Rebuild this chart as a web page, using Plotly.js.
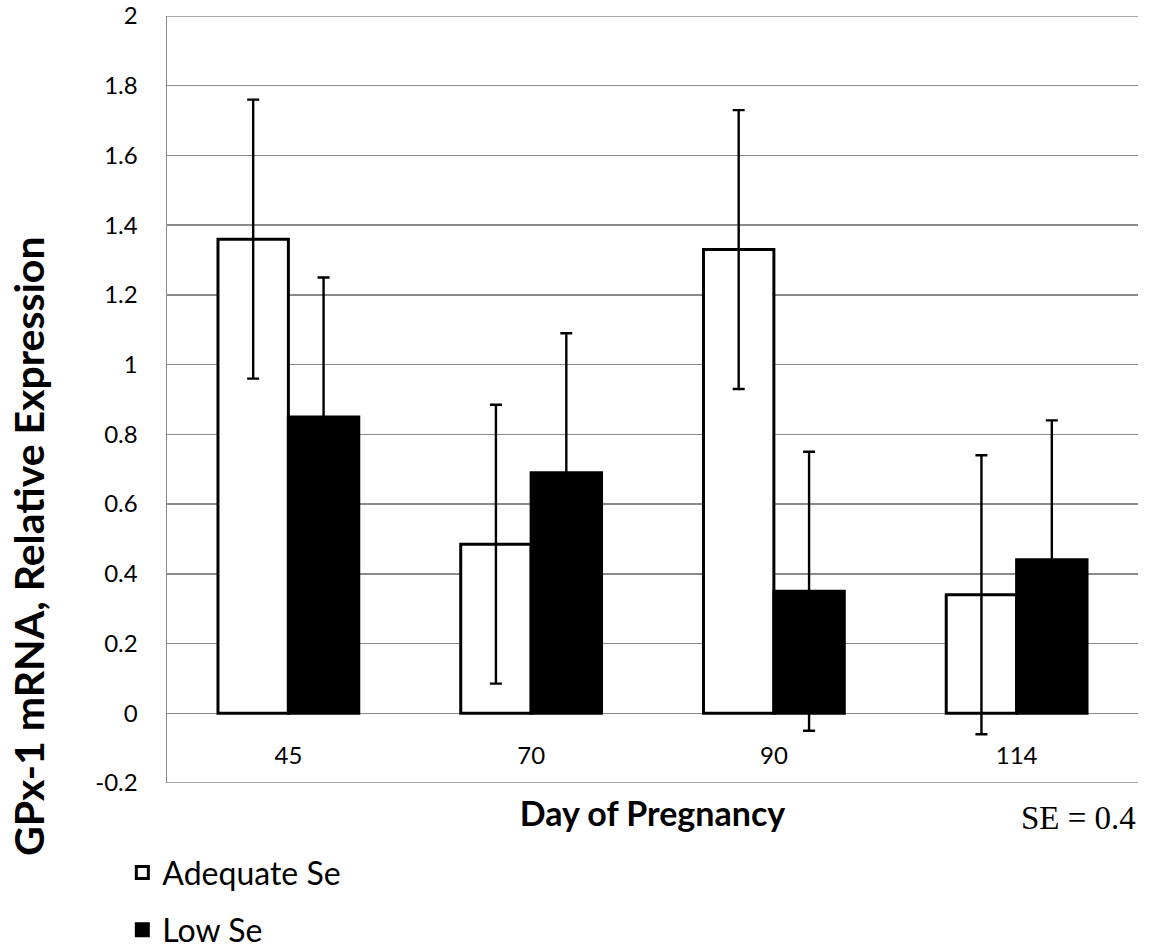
<!DOCTYPE html>
<html>
<head>
<meta charset="utf-8">
<script src="https://cdn.plot.ly/plotly-3.0.1.min.js"></script>
<style>html,body{margin:0;padding:0;background:#fff;}#chart{width:1160px;height:952px;}</style>
</head>
<body>
<div id="chart"></div>
<script>
const days = ["45", "70", "90", "114"];
const adequateSe = [1.36, 0.485, 1.33, 0.34];
const lowSe = [0.85, 0.69, 0.35, 0.44];
const seAdequate = [0.4, 0.4, 0.4, 0.4];
const seLow = [0.4, 0.4, 0.4, 0.4];
const yTicks = [-0.2, 0, 0.2, 0.4, 0.6, 0.8, 1, 1.2, 1.4, 1.6, 1.8, 2];
const yTickText = ["-0.2", "0", "0.2", "0.4", "0.6", "0.8", "1", "1.2", "1.4", "1.6", "1.8", "2"];
const yMin = -0.2, yMax = 2;

const font = "Lato, 'Open Sans', sans-serif";
const gridColor = "#8a8a8a";

const traces = [
  {
    type: "bar", name: "Adequate Se", x: days, y: adequateSe,
    marker: {color: "#ffffff", line: {color: "#000000", width: 3}},
    error_y: {type: "data", array: seAdequate, visible: true, color: "#000000", thickness: 2.4, width: 6},
    legend: "legend"
  },
  {
    type: "bar", name: "Low Se", x: days, y: lowSe,
    marker: {color: "#000000", line: {color: "#000000", width: 3}},
    error_y: {type: "data", array: seLow, visible: true, color: "#000000", thickness: 2.4, width: 6},
    legend: "legend2"
  }
];

const layout = {
  width: 1160, height: 952,
  margin: {l: 167, r: 22, t: 16, b: 169, autoexpand: false},
  paper_bgcolor: "#ffffff", plot_bgcolor: "#ffffff",
  barmode: "group", bargap: 0.42, bargroupgap: 0,
  font: {family: font, color: "#000000"},
  xaxis: {
    type: "category",
    anchor: "free", position: 0.0574,
    showgrid: false,
    showline: false,
    ticks: "",
    tickfont: {family: font, size: 24, color: "#000000"},
    title: {text: "<b>Day of Pregnancy</b>", font: {family: font, size: 34, color: "#000000"}, standoff: 34},
    automargin: false, fixedrange: true
  },
  yaxis: {
    range: [yMin, yMax],
    tickvals: yTicks, ticktext: yTickText,
    showgrid: true, gridcolor: gridColor, gridwidth: 1.4,
    zeroline: true, zerolinecolor: gridColor, zerolinewidth: 1.4,
    showline: true, linecolor: gridColor, linewidth: 1.5,
    ticks: "",
    ticklabelstandoff: 23,
    tickfont: {family: font, size: 24, color: "#000000"},
    automargin: false, fixedrange: true
  },
  shapes: [
    {type: "line", xref: "paper", yref: "y", x0: 0, x1: 1, y0: yMin, y1: yMin, line: {color: gridColor, width: 1.5}},
    {type: "line", xref: "paper", yref: "y", x0: 0, x1: 1, y0: yMax, y1: yMax, line: {color: gridColor, width: 1.4}}
  ],
  showlegend: true,
  legend: {
    x: -0.046, xanchor: "left", y: -0.117, yanchor: "middle",
    font: {family: font, size: 32, color: "#000000"},
    bgcolor: "rgba(0,0,0,0)"
  },
  legend2: {
    x: -0.046, xanchor: "left", y: -0.1917, yanchor: "middle",
    font: {family: font, size: 32, color: "#000000"},
    bgcolor: "rgba(0,0,0,0)"
  },
  annotations: [
    {
      xref: "paper", yref: "paper", x: -0.142, y: 0.309,
      xanchor: "center", yanchor: "middle", textangle: -90, showarrow: false,
      text: "<b>GPx-1 mRNA, Relative Expression</b>",
      font: {family: font, size: 41, color: "#000000"}
    },
    {
      xref: "paper", yref: "paper", x: 1, y: -0.0456,
      xanchor: "right", yanchor: "middle", showarrow: false,
      text: "SE = 0.4",
      font: {family: "'Liberation Serif', 'Times New Roman', serif", size: 33, color: "#000000"}
    }
  ]
};

Plotly.newPlot("chart", traces, layout, {displayModeBar: false, staticPlot: true});
</script>
</body>
</html>
